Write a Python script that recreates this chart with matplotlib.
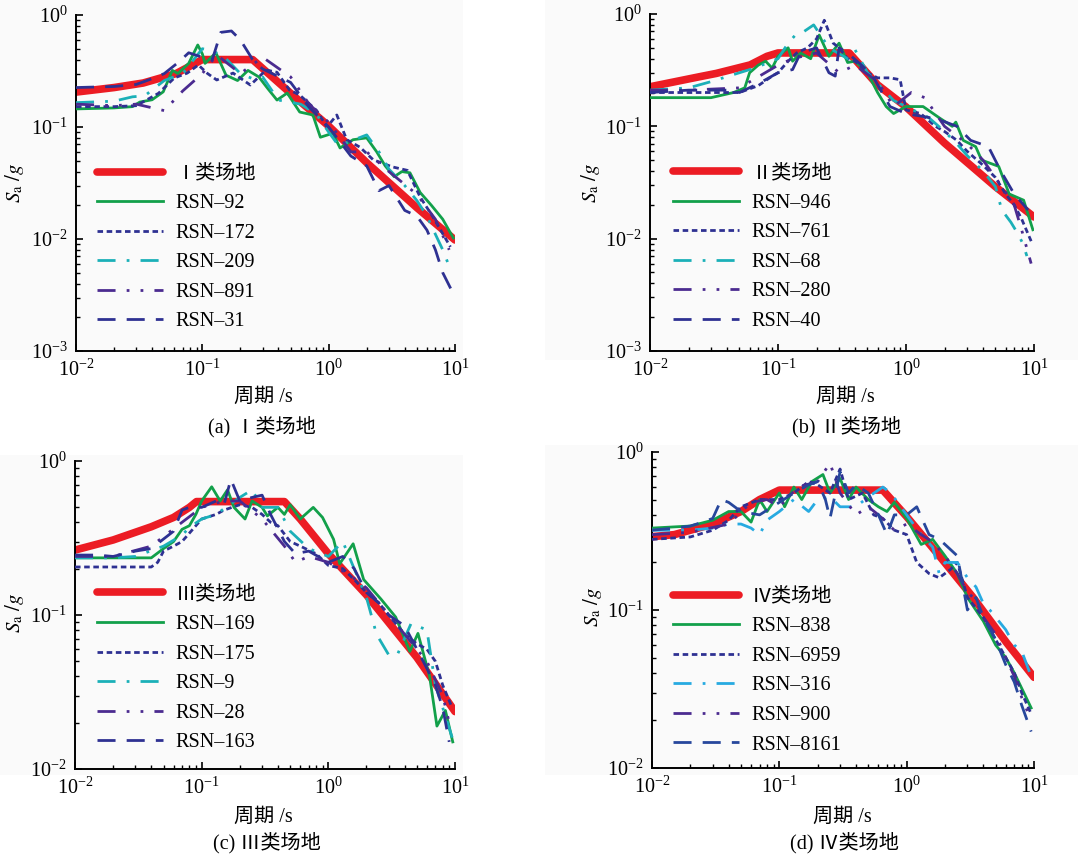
import matplotlib
matplotlib.use('Agg')
import matplotlib.pyplot as plt
from matplotlib.ticker import LogLocator, NullFormatter
from matplotlib.patches import Rectangle

plt.rcParams['font.family'] = ['Liberation Serif', 'Noto Sans CJK SC', 'DejaVu Sans']
plt.rcParams['mathtext.fontset'] = 'stix'

# ---------------- data (period T in s, Sa in g) ----------------
# Panel (a) site class I
a_design_T = [0.01, 0.02, 0.034, 0.062, 0.084, 0.1, 0.25, 0.5, 1.0, 2.0, 5.0, 10.0]
a_design_Sa = [0.205, 0.225, 0.247, 0.30, 0.36, 0.40, 0.40, 0.20, 0.102, 0.048, 0.019, 0.0098]
a_rsn92_T = [0.01, 0.02, 0.028, 0.032, 0.04, 0.049, 0.058, 0.064, 0.078, 0.092, 0.1, 0.105, 0.128, 0.154, 0.19, 0.23, 0.28, 0.33, 0.39, 0.47, 0.59, 0.75, 0.86, 1.08, 1.23, 1.56, 2.0, 2.4, 2.8, 3.3, 3.8, 4.4, 5.3, 6.5, 8.0, 9.7]
a_rsn92_Sa = [0.145, 0.148, 0.152, 0.167, 0.175, 0.206, 0.32, 0.30, 0.37, 0.54, 0.45, 0.37, 0.46, 0.29, 0.26, 0.32, 0.28, 0.22, 0.174, 0.201, 0.136, 0.128, 0.081, 0.088, 0.065, 0.077, 0.080, 0.060, 0.045, 0.036, 0.040, 0.039, 0.026, 0.020, 0.015, 0.0102]
a_rsn172_T = [0.01, 0.02, 0.03, 0.045, 0.06, 0.076, 0.093, 0.11, 0.13, 0.175, 0.24, 0.32, 0.39, 0.49, 0.59, 0.8, 0.97, 1.16, 1.39, 1.77, 2.25, 3.2, 4.2, 5.3, 6.7, 9.2]
a_rsn172_Sa = [0.152, 0.152, 0.155, 0.20, 0.274, 0.303, 0.358, 0.30, 0.263, 0.303, 0.237, 0.323, 0.308, 0.214, 0.193, 0.141, 0.10, 0.128, 0.077, 0.066, 0.051, 0.044, 0.041, 0.0237, 0.0157, 0.0085]
a_rsn209_T = [0.01, 0.02, 0.028, 0.035, 0.05, 0.07, 0.1, 0.12, 0.15, 0.2, 0.25, 0.3, 0.4, 0.6, 0.8, 1.0, 1.2, 1.5, 2.0, 2.5, 3.0, 4.0, 5.0, 6.0, 7.0, 8.0, 9.0]
a_rsn209_Sa = [0.165, 0.17, 0.186, 0.19, 0.26, 0.30, 0.50, 0.48, 0.42, 0.30, 0.27, 0.28, 0.174, 0.16, 0.13, 0.09, 0.068, 0.075, 0.085, 0.06, 0.042, 0.03, 0.022, 0.016, 0.011, 0.008, 0.0057]
a_rsn891_T = [0.01, 0.02, 0.03, 0.05, 0.07, 0.1, 0.13, 0.2, 0.3, 0.5, 0.7, 1.0, 1.5, 2.0, 3.0, 5.0, 7.0, 9.0]
a_rsn891_Sa = [0.16, 0.155, 0.16, 0.14, 0.21, 0.30, 0.44, 0.30, 0.42, 0.28, 0.16, 0.11, 0.06, 0.06, 0.04, 0.025, 0.015, 0.008]
a_rsn31_T = [0.01, 0.02, 0.03, 0.04, 0.05, 0.065, 0.078, 0.1, 0.12, 0.14, 0.17, 0.2, 0.25, 0.3, 0.5, 0.7, 1.0, 1.5, 2.0, 2.5, 3.0, 4.0, 5.0, 6.0, 7.0, 8.0, 9.5]
a_rsn31_Sa = [0.225, 0.23, 0.24, 0.27, 0.30, 0.38, 0.46, 0.42, 0.40, 0.70, 0.72, 0.60, 0.40, 0.33, 0.25, 0.15, 0.10, 0.055, 0.045, 0.027, 0.030, 0.018, 0.016, 0.012, 0.008, 0.005, 0.0034]

# Panel (b) site class II
b_design_T = [0.01, 0.0246, 0.033, 0.0605, 0.082, 0.1, 0.36, 0.6, 1.0, 2.0, 5.0, 10.0]
b_design_Sa = [0.225, 0.277, 0.296, 0.352, 0.42, 0.45, 0.45, 0.234, 0.149, 0.071, 0.029, 0.0156]
b_rsn946_T = [0.01, 0.02, 0.03, 0.045, 0.055, 0.06, 0.07, 0.08, 0.09, 0.1, 0.12, 0.13, 0.15, 0.18, 0.21, 0.25, 0.3, 0.35, 0.4, 0.5, 0.6, 0.7, 0.8, 1.0, 1.36, 1.84, 2.3, 2.45, 2.8, 3.5, 3.9, 5.3, 6.4, 8.3, 9.8]
b_rsn946_Sa = [0.18, 0.18, 0.18, 0.20, 0.22, 0.30, 0.35, 0.38, 0.33, 0.42, 0.50, 0.38, 0.45, 0.40, 0.65, 0.42, 0.55, 0.37, 0.38, 0.30, 0.20, 0.15, 0.13, 0.15, 0.15, 0.118, 0.10, 0.109, 0.075, 0.066, 0.05, 0.044, 0.025, 0.022, 0.012]
b_rsn761_T = [0.01, 0.02, 0.03, 0.05, 0.07, 0.09, 0.1, 0.12, 0.14, 0.17, 0.2, 0.23, 0.27, 0.3, 0.35, 0.4, 0.5, 0.6, 0.75, 0.9, 1.0, 1.3, 1.7, 2.0, 2.5, 3.0, 4.0, 5.0, 6.0, 7.0, 8.0, 9.5]
b_rsn761_Sa = [0.20, 0.20, 0.20, 0.20, 0.23, 0.28, 0.30, 0.38, 0.45, 0.50, 0.60, 0.88, 0.55, 0.50, 0.40, 0.38, 0.30, 0.27, 0.27, 0.26, 0.14, 0.13, 0.10, 0.09, 0.075, 0.06, 0.045, 0.035, 0.025, 0.02, 0.015, 0.0095]
b_rsn68_T = [0.01, 0.02, 0.03, 0.05, 0.06, 0.07, 0.1, 0.12, 0.14, 0.16, 0.19, 0.25, 0.35, 0.4, 0.5, 0.7, 0.8, 1.0, 1.5, 2.0, 2.5, 3.0, 4.0, 5.0, 5.6, 6.6, 7.5, 8.2, 8.8]
b_rsn68_Sa = [0.21, 0.22, 0.25, 0.30, 0.32, 0.34, 0.40, 0.55, 0.67, 0.70, 0.80, 0.50, 0.40, 0.48, 0.30, 0.20, 0.17, 0.15, 0.12, 0.09, 0.07, 0.055, 0.04, 0.029, 0.018, 0.014, 0.011, 0.009, 0.007]
b_rsn280_T = [0.01, 0.02, 0.05, 0.1, 0.13, 0.2, 0.3, 0.4, 0.6, 0.8, 1.1, 1.4, 2.0, 3.0, 4.0, 5.0, 7.0, 8.0, 9.5]
b_rsn280_Sa = [0.21, 0.21, 0.22, 0.35, 0.40, 0.45, 0.30, 0.35, 0.25, 0.15, 0.20, 0.18, 0.10, 0.07, 0.05, 0.035, 0.02, 0.012, 0.006]
b_rsn40_T = [0.01, 0.02, 0.04, 0.05, 0.07, 0.08, 0.1, 0.13, 0.15, 0.2, 0.25, 0.28, 0.3, 0.35, 0.45, 0.55, 0.65, 0.75, 1.0, 1.5, 2.0, 2.5, 3.2, 4.4, 5.5, 7.0, 9.0]
b_rsn40_Sa = [0.20, 0.21, 0.21, 0.20, 0.24, 0.26, 0.30, 0.32, 0.45, 0.50, 0.30, 0.28, 0.50, 0.45, 0.35, 0.28, 0.20, 0.15, 0.13, 0.12, 0.11, 0.10, 0.075, 0.066, 0.04, 0.025, 0.018]

# Panel (c) site class III
c_design_T = [0.01, 0.02, 0.04, 0.06, 0.08, 0.091, 0.45, 0.6, 1.0, 2.0, 5.0, 10.0]
c_design_Sa = [0.264, 0.307, 0.374, 0.43, 0.50, 0.545, 0.545, 0.42, 0.25, 0.135, 0.053, 0.0236]
c_rsn169_T = [0.01, 0.02, 0.04, 0.05, 0.06, 0.07, 0.08, 0.09, 0.1, 0.12, 0.14, 0.16, 0.18, 0.22, 0.25, 0.3, 0.33, 0.4, 0.45, 0.5, 0.6, 0.76, 0.9, 1.1, 1.23, 1.57, 1.9, 2.6, 3.4, 4.4, 5.1, 6.3, 7.2, 8.4, 9.6]
c_rsn169_Sa = [0.235, 0.235, 0.235, 0.27, 0.30, 0.36, 0.38, 0.45, 0.55, 0.68, 0.55, 0.65, 0.50, 0.42, 0.55, 0.50, 0.44, 0.50, 0.45, 0.52, 0.42, 0.50, 0.43, 0.31, 0.215, 0.29, 0.17, 0.127, 0.097, 0.058, 0.076, 0.04, 0.019, 0.024, 0.015]
c_rsn175_T = [0.01, 0.02, 0.04, 0.045, 0.05, 0.06, 0.07, 0.08, 0.1, 0.13, 0.15, 0.2, 0.25, 0.3, 0.35, 0.4, 0.5, 0.6, 0.8, 1.0, 1.3, 1.6, 2.0, 2.5, 3.0, 4.0, 5.0, 6.0, 7.0, 8.0, 9.5]
c_rsn175_Sa = [0.205, 0.205, 0.205, 0.22, 0.26, 0.28, 0.30, 0.34, 0.42, 0.45, 0.48, 0.52, 0.50, 0.45, 0.40, 0.38, 0.30, 0.28, 0.25, 0.21, 0.20, 0.17, 0.14, 0.12, 0.10, 0.075, 0.065, 0.06, 0.05, 0.035, 0.025]
c_rsn9_T = [0.01, 0.02, 0.03, 0.05, 0.07, 0.08, 0.1, 0.13, 0.2, 0.25, 0.3, 0.4, 0.5, 0.7, 1.0, 1.3, 1.6, 2.0, 2.4, 3.0, 3.5, 4.5, 6.0, 7.0, 8.0, 9.5]
c_rsn9_Sa = [0.235, 0.235, 0.24, 0.28, 0.33, 0.37, 0.42, 0.45, 0.58, 0.65, 0.50, 0.50, 0.35, 0.27, 0.24, 0.30, 0.20, 0.13, 0.075, 0.055, 0.055, 0.088, 0.08, 0.035, 0.025, 0.016]
c_rsn28_T = [0.01, 0.02, 0.04, 0.07, 0.1, 0.15, 0.2, 0.3, 0.45, 0.55, 0.7, 1.0, 1.5, 2.0, 3.0, 4.0, 6.0, 8.0, 9.0]
c_rsn28_Sa = [0.24, 0.24, 0.28, 0.40, 0.50, 0.55, 0.55, 0.42, 0.28, 0.22, 0.24, 0.22, 0.18, 0.15, 0.10, 0.075, 0.05, 0.03, 0.02]
c_rsn163_T = [0.01, 0.015, 0.02, 0.03, 0.04, 0.06, 0.07, 0.08, 0.1, 0.13, 0.15, 0.17, 0.2, 0.25, 0.3, 0.35, 0.45, 0.55, 0.7, 1.0, 1.3, 1.6, 2.0, 2.5, 3.0, 4.0, 5.0, 6.0, 7.0, 8.0, 9.0]
c_rsn163_Sa = [0.245, 0.245, 0.24, 0.26, 0.27, 0.35, 0.48, 0.50, 0.50, 0.55, 0.52, 0.76, 0.55, 0.58, 0.60, 0.45, 0.30, 0.25, 0.26, 0.22, 0.24, 0.20, 0.14, 0.12, 0.10, 0.085, 0.06, 0.045, 0.035, 0.025, 0.015]

# Panel (d) site class IV
d_design_T = [0.01, 0.015, 0.03, 0.05, 0.07, 0.1, 0.65, 1.0, 1.83, 3.3, 6.1, 10.0]
d_design_Sa = [0.291, 0.30, 0.35, 0.42, 0.50, 0.574, 0.574, 0.39, 0.217, 0.121, 0.062, 0.0375]
d_rsn838_T = [0.01, 0.02, 0.03, 0.04, 0.05, 0.06, 0.07, 0.08, 0.1, 0.11, 0.13, 0.15, 0.18, 0.22, 0.25, 0.3, 0.35, 0.4, 0.5, 0.6, 0.7, 0.8, 1.0, 1.3, 1.6, 2.0, 2.5, 3.0, 4.0, 5.0, 6.0, 7.0, 8.0, 9.5]
d_rsn838_Sa = [0.33, 0.34, 0.37, 0.42, 0.42, 0.36, 0.50, 0.42, 0.55, 0.45, 0.60, 0.50, 0.65, 0.72, 0.55, 0.68, 0.50, 0.60, 0.50, 0.45, 0.42, 0.48, 0.38, 0.26, 0.28, 0.22, 0.17, 0.12, 0.085, 0.06, 0.05, 0.04, 0.032, 0.024]
d_rsn6959_T = [0.01, 0.02, 0.03, 0.04, 0.05, 0.07, 0.1, 0.13, 0.17, 0.2, 0.25, 0.3, 0.35, 0.45, 0.55, 0.65, 0.8, 1.0, 1.2, 1.5, 1.8, 2.2, 2.5, 3.0, 4.0, 5.0, 6.0, 7.0, 8.0, 9.5]
d_rsn6959_Sa = [0.28, 0.29, 0.32, 0.37, 0.45, 0.50, 0.50, 0.55, 0.65, 0.62, 0.55, 0.78, 0.50, 0.55, 0.40, 0.38, 0.32, 0.30, 0.20, 0.17, 0.16, 0.18, 0.20, 0.12, 0.09, 0.065, 0.05, 0.04, 0.03, 0.022]
d_rsn316_T = [0.01, 0.02, 0.03, 0.04, 0.05, 0.06, 0.07, 0.08, 0.1, 0.13, 0.17, 0.2, 0.25, 0.3, 0.4, 0.5, 0.65, 0.75, 0.9, 1.0, 1.3, 1.6, 1.8, 2.0, 2.5, 3.0, 3.5, 4.0, 4.5, 5.0, 6.0, 7.0, 8.0, 9.5]
d_rsn316_Sa = [0.32, 0.32, 0.33, 0.35, 0.35, 0.33, 0.30, 0.37, 0.42, 0.50, 0.42, 0.50, 0.52, 0.45, 0.45, 0.52, 0.60, 0.55, 0.45, 0.40, 0.30, 0.25, 0.17, 0.20, 0.20, 0.16, 0.14, 0.11, 0.10, 0.09, 0.075, 0.06, 0.055, 0.038]
d_rsn900_T = [0.01, 0.02, 0.04, 0.06, 0.08, 0.1, 0.14, 0.2, 0.25, 0.3, 0.4, 0.5, 0.6, 0.8, 1.0, 1.3, 1.6, 2.0, 2.5, 3.0, 3.5, 4.0, 5.0, 6.0, 7.0, 8.0, 9.5]
d_rsn900_Sa = [0.30, 0.31, 0.35, 0.48, 0.50, 0.45, 0.60, 0.65, 0.85, 0.55, 0.40, 0.45, 0.40, 0.32, 0.35, 0.30, 0.27, 0.22, 0.17, 0.13, 0.115, 0.09, 0.07, 0.05, 0.038, 0.028, 0.02]
d_rsn8161_T = [0.01, 0.015, 0.02, 0.025, 0.03, 0.035, 0.04, 0.05, 0.07, 0.1, 0.13, 0.17, 0.2, 0.23, 0.25, 0.3, 0.35, 0.4, 0.5, 0.6, 0.7, 0.8, 1.0, 1.2, 1.5, 1.8, 2.0, 2.5, 3.0, 3.5, 4.0, 5.0, 6.0, 7.0, 8.0, 9.5]
d_rsn8161_Sa = [0.32, 0.33, 0.34, 0.36, 0.38, 0.50, 0.48, 0.42, 0.40, 0.48, 0.55, 0.62, 0.65, 0.50, 0.38, 0.75, 0.55, 0.62, 0.55, 0.40, 0.30, 0.40, 0.40, 0.45, 0.30, 0.28, 0.26, 0.22, 0.10, 0.12, 0.09, 0.065, 0.045, 0.035, 0.025, 0.017]

site_labels = ['Ⅰ类场地', 'Ⅱ类场地', 'Ⅲ类场地', 'Ⅳ类场地']
record_names = [
    ['RSN–92', 'RSN–172', 'RSN–209', 'RSN–891', 'RSN–31'],
    ['RSN–946', 'RSN–761', 'RSN–68', 'RSN–280', 'RSN–40'],
    ['RSN–169', 'RSN–175', 'RSN–9', 'RSN–28', 'RSN–163'],
    ['RSN–838', 'RSN–6959', 'RSN–316', 'RSN–900', 'RSN–8161'],
]
captions = ['(a) Ⅰ类场地', '(b) Ⅱ类场地', '(c) Ⅲ类场地', '(d) Ⅳ类场地']

designs = [(a_design_T, a_design_Sa), (b_design_T, b_design_Sa),
           (c_design_T, c_design_Sa), (d_design_T, d_design_Sa)]
records = [
    [(a_rsn92_T, a_rsn92_Sa), (a_rsn172_T, a_rsn172_Sa), (a_rsn209_T, a_rsn209_Sa), (a_rsn891_T, a_rsn891_Sa), (a_rsn31_T, a_rsn31_Sa)],
    [(b_rsn946_T, b_rsn946_Sa), (b_rsn761_T, b_rsn761_Sa), (b_rsn68_T, b_rsn68_Sa), (b_rsn280_T, b_rsn280_Sa), (b_rsn40_T, b_rsn40_Sa)],
    [(c_rsn169_T, c_rsn169_Sa), (c_rsn175_T, c_rsn175_Sa), (c_rsn9_T, c_rsn9_Sa), (c_rsn28_T, c_rsn28_Sa), (c_rsn163_T, c_rsn163_Sa)],
    [(d_rsn838_T, d_rsn838_Sa), (d_rsn6959_T, d_rsn6959_Sa), (d_rsn316_T, d_rsn316_Sa), (d_rsn900_T, d_rsn900_Sa), (d_rsn8161_T, d_rsn8161_Sa)],
]

# ---------------- styling ----------------
RED = '#ec1c24'
GREEN = '#12a04a'
NAVY = '#2e3192'
CYAN = '#1bb0b8'
PURPLE = '#4b2b90'
styles_default = [
    dict(color=GREEN, ls='-'),
    dict(color=NAVY, ls=(0, (2.0, 1.3))),
    dict(color=CYAN, ls=(0, (6.5, 4, 1, 4))),
    dict(color=PURPLE, ls=(0, (6.5, 4, 1, 4, 1, 4))),
    dict(color=NAVY, ls=(0, (6.5, 4))),
]
styles_d = [dict(s) for s in styles_default]
styles_d[2]['color'] = '#27aae1'
styles_d[4]['color'] = '#27479c'

W, H = 1078, 858
fig = plt.figure(figsize=(W / 100, H / 100), dpi=100)
fig.patch.set_facecolor('white')

# faint grey panels behind the plots
for (x0, y0, x1, y1) in [(0, 0, 463, 360), (545, 0, 1078, 360), (0, 455, 463, 775), (545, 445, 1078, 775)]:
    fig.patches.append(Rectangle((x0 / W, 1 - y1 / H), (x1 - x0) / W, (y1 - y0) / H,
                                 transform=fig.transFigure, facecolor='#fafafa',
                                 edgecolor='none', zorder=-10))

# axes boxes in pixels: left, top, right, bottom
boxes = [(76, 15, 455, 351), (650, 14, 1034, 351), (75, 461, 455, 769), (652, 452, 1034, 768)]
ylims = [(1e-3, 1), (1e-3, 1), (1e-2, 1), (1e-2, 1)]
legend_anchor = [(0.055, 0.555), (0.06, 0.555), (0.058, 0.596), (0.055, 0.571)]
xlabel_pos = [(263, 397), (845, 397), (263, 817), (842, 817)]
caption_pos = [(262, 427), (847, 427), (267, 843), (844, 843)]
ylabel_pos = [(15, 183), (590, 183), (15, 613), (593, 607)]

for i in range(4):
    l, t, r, b = boxes[i]
    ax = fig.add_axes([l / W, 1 - b / H, (r - l) / W, (b - t) / H])
    ax.set_facecolor('none')
    T, Sa = designs[i]
    ax.plot(T, Sa, color=RED, lw=5.5, solid_capstyle='round', solid_joinstyle='round',
            label=site_labels[i], zorder=2)
    sty = styles_d if i == 3 else styles_default
    for j, (rt, rs) in enumerate(records[i]):
        ax.plot(rt, rs, color=sty[j]['color'], ls=sty[j]['ls'], lw=2.0,
                label=record_names[i][j], zorder=3)
    ax.set_xscale('log')
    ax.set_yscale('log')
    ax.set_xlim(0.01, 10)
    ax.set_ylim(*ylims[i])
    for s in ['top', 'right']:
        ax.spines[s].set_visible(False)
    for s in ['left', 'bottom']:
        ax.spines[s].set_linewidth(1.4)
    ax.xaxis.set_major_locator(LogLocator(base=10, numticks=10))
    ax.yaxis.set_major_locator(LogLocator(base=10, numticks=10))
    ax.xaxis.set_minor_locator(LogLocator(base=10, subs=range(2, 10), numticks=30))
    ax.yaxis.set_minor_locator(LogLocator(base=10, subs=range(2, 10), numticks=30))
    ax.xaxis.set_minor_formatter(NullFormatter())
    ax.yaxis.set_minor_formatter(NullFormatter())
    ax.tick_params(which='major', direction='in', length=5, width=1.2, labelsize=14.5, pad=6)
    ax.tick_params(which='minor', direction='in', length=3, width=1.0)
    leg = ax.legend(loc='upper left', bbox_to_anchor=legend_anchor[i], frameon=False,
                    fontsize=14.5, handlelength=3.3, handletextpad=0.6,
                    labelspacing=0.52, borderpad=0, borderaxespad=0)
    fig.text(xlabel_pos[i][0] / W, 1 - xlabel_pos[i][1] / H, '周期 /s',
             ha='center', va='center', fontsize=14.5)
    fig.text(caption_pos[i][0] / W, 1 - caption_pos[i][1] / H, captions[i],
             ha='center', va='center', fontsize=14.5)
    fig.text(ylabel_pos[i][0] / W, 1 - ylabel_pos[i][1] / H, r'$S_{\mathrm{a}}\ /g$',
             ha='center', va='center', rotation=90, fontsize=15)

fig.savefig('out.png', dpi=100, facecolor=fig.get_facecolor())
